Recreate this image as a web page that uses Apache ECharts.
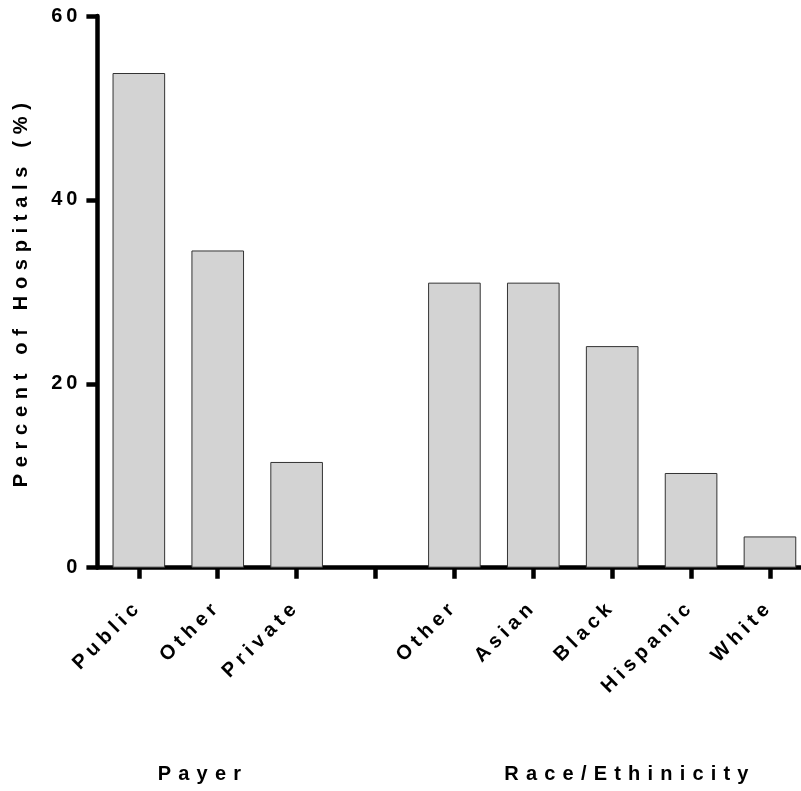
<!DOCTYPE html>
<html>
<head>
<meta charset="utf-8">
<script src="https://cdn.jsdelivr.net/npm/echarts@6/dist/echarts.min.js"></script>
<style>html,body{margin:0;padding:0;background:#fff}#c{width:801px;height:791px}</style>
</head>
<body>
<div id="c"></div>
<script>
// Data
var categories = ['Public', 'Other', 'Private', '', 'Other', 'Asian', 'Black', 'Hispanic', 'White'];
var percentValues = [53.8, 34.5, 11.5, null, 31.0, 31.0, 24.1, 10.3, 3.4];
var yTicks = [0, 20, 40, 60];
var groupLabels = ['Payer', 'Race/Ethinicity'];

// letter spacing to mimic the reference typography (keyed on a marker family name)
(function () {
  var P = CanvasRenderingContext2D.prototype;
  if (!('letterSpacing' in P)) return;
  var map = {ltrsA: '4px', ltrsB: '4.8px', ltrsC: '6.7px', ltrsD: '7.2px'};
  function sp(ctx) {
    var f = ctx.font || '';
    var m = f.match(/ltrs[A-D]/);
    ctx.letterSpacing = m ? map[m[0]] : '0px';
  }
  var ft = P.fillText, mt = P.measureText;
  P.fillText = function () { sp(this); return ft.apply(this, arguments); };
  P.measureText = function () { sp(this); return mt.apply(this, arguments); };
})();

var chart = echarts.init(document.getElementById('c'), null, {renderer: 'canvas'});
chart.setOption({
  animation: false,
  backgroundColor: '#fff',
  grid: {left: 99.4, width: 710, top: 16, bottom: 223.3, containLabel: false, outerBoundsMode: 'none'},
  xAxis: {
    type: 'category',
    data: categories,
    boundaryGap: true,
    axisLine: {show: true, lineStyle: {color: '#000', width: 4.5}},
    axisTick: {show: true, alignWithLabel: true, length: 11, lineStyle: {color: '#000', width: 4.5}},
    axisLabel: {show: true, rotate: 45, margin: 36, color: '#000', fontSize: 20, fontWeight: 'bold', fontFamily: 'Liberation Sans, ltrsB', interval: 0}
  },
  yAxis: {
    type: 'value',
    offset: 2,
    min: yTicks[0], max: yTicks[yTicks.length - 1], interval: 20,
    name: 'Percent of Hospitals (%)',
    nameLocation: 'middle',
    nameGap: 63,
    nameTextStyle: {color: '#000', fontSize: 20, fontWeight: 'bold', fontFamily: 'Liberation Sans, ltrsC'},
    axisLine: {show: true, lineStyle: {color: '#000', width: 4.5}},
    axisTick: {show: true, length: 11, lineStyle: {color: '#000', width: 4.5}},
    axisLabel: {margin: 16, color: '#000', fontSize: 20, fontWeight: 'bold', fontFamily: 'Liberation Sans, ltrsA'},
    splitLine: {show: false}
  },
  series: [{
    type: 'bar',
    data: percentValues,
    barWidth: '66.7%',
    itemStyle: {color: '#d3d3d3', borderColor: '#333', borderWidth: 1}
  }],
  graphic: [
    {type: 'text', x: 203, y: 774, style: {text: groupLabels[0], fill: '#000', font: 'bold 20px Liberation Sans, ltrsD', textAlign: 'center', textVerticalAlign: 'middle'}},
    {type: 'text', x: 630, y: 774, style: {text: groupLabels[1], fill: '#000', font: 'bold 20px Liberation Sans, ltrsD', textAlign: 'center', textVerticalAlign: 'middle'}}
  ]
});
</script>
</body>
</html>
